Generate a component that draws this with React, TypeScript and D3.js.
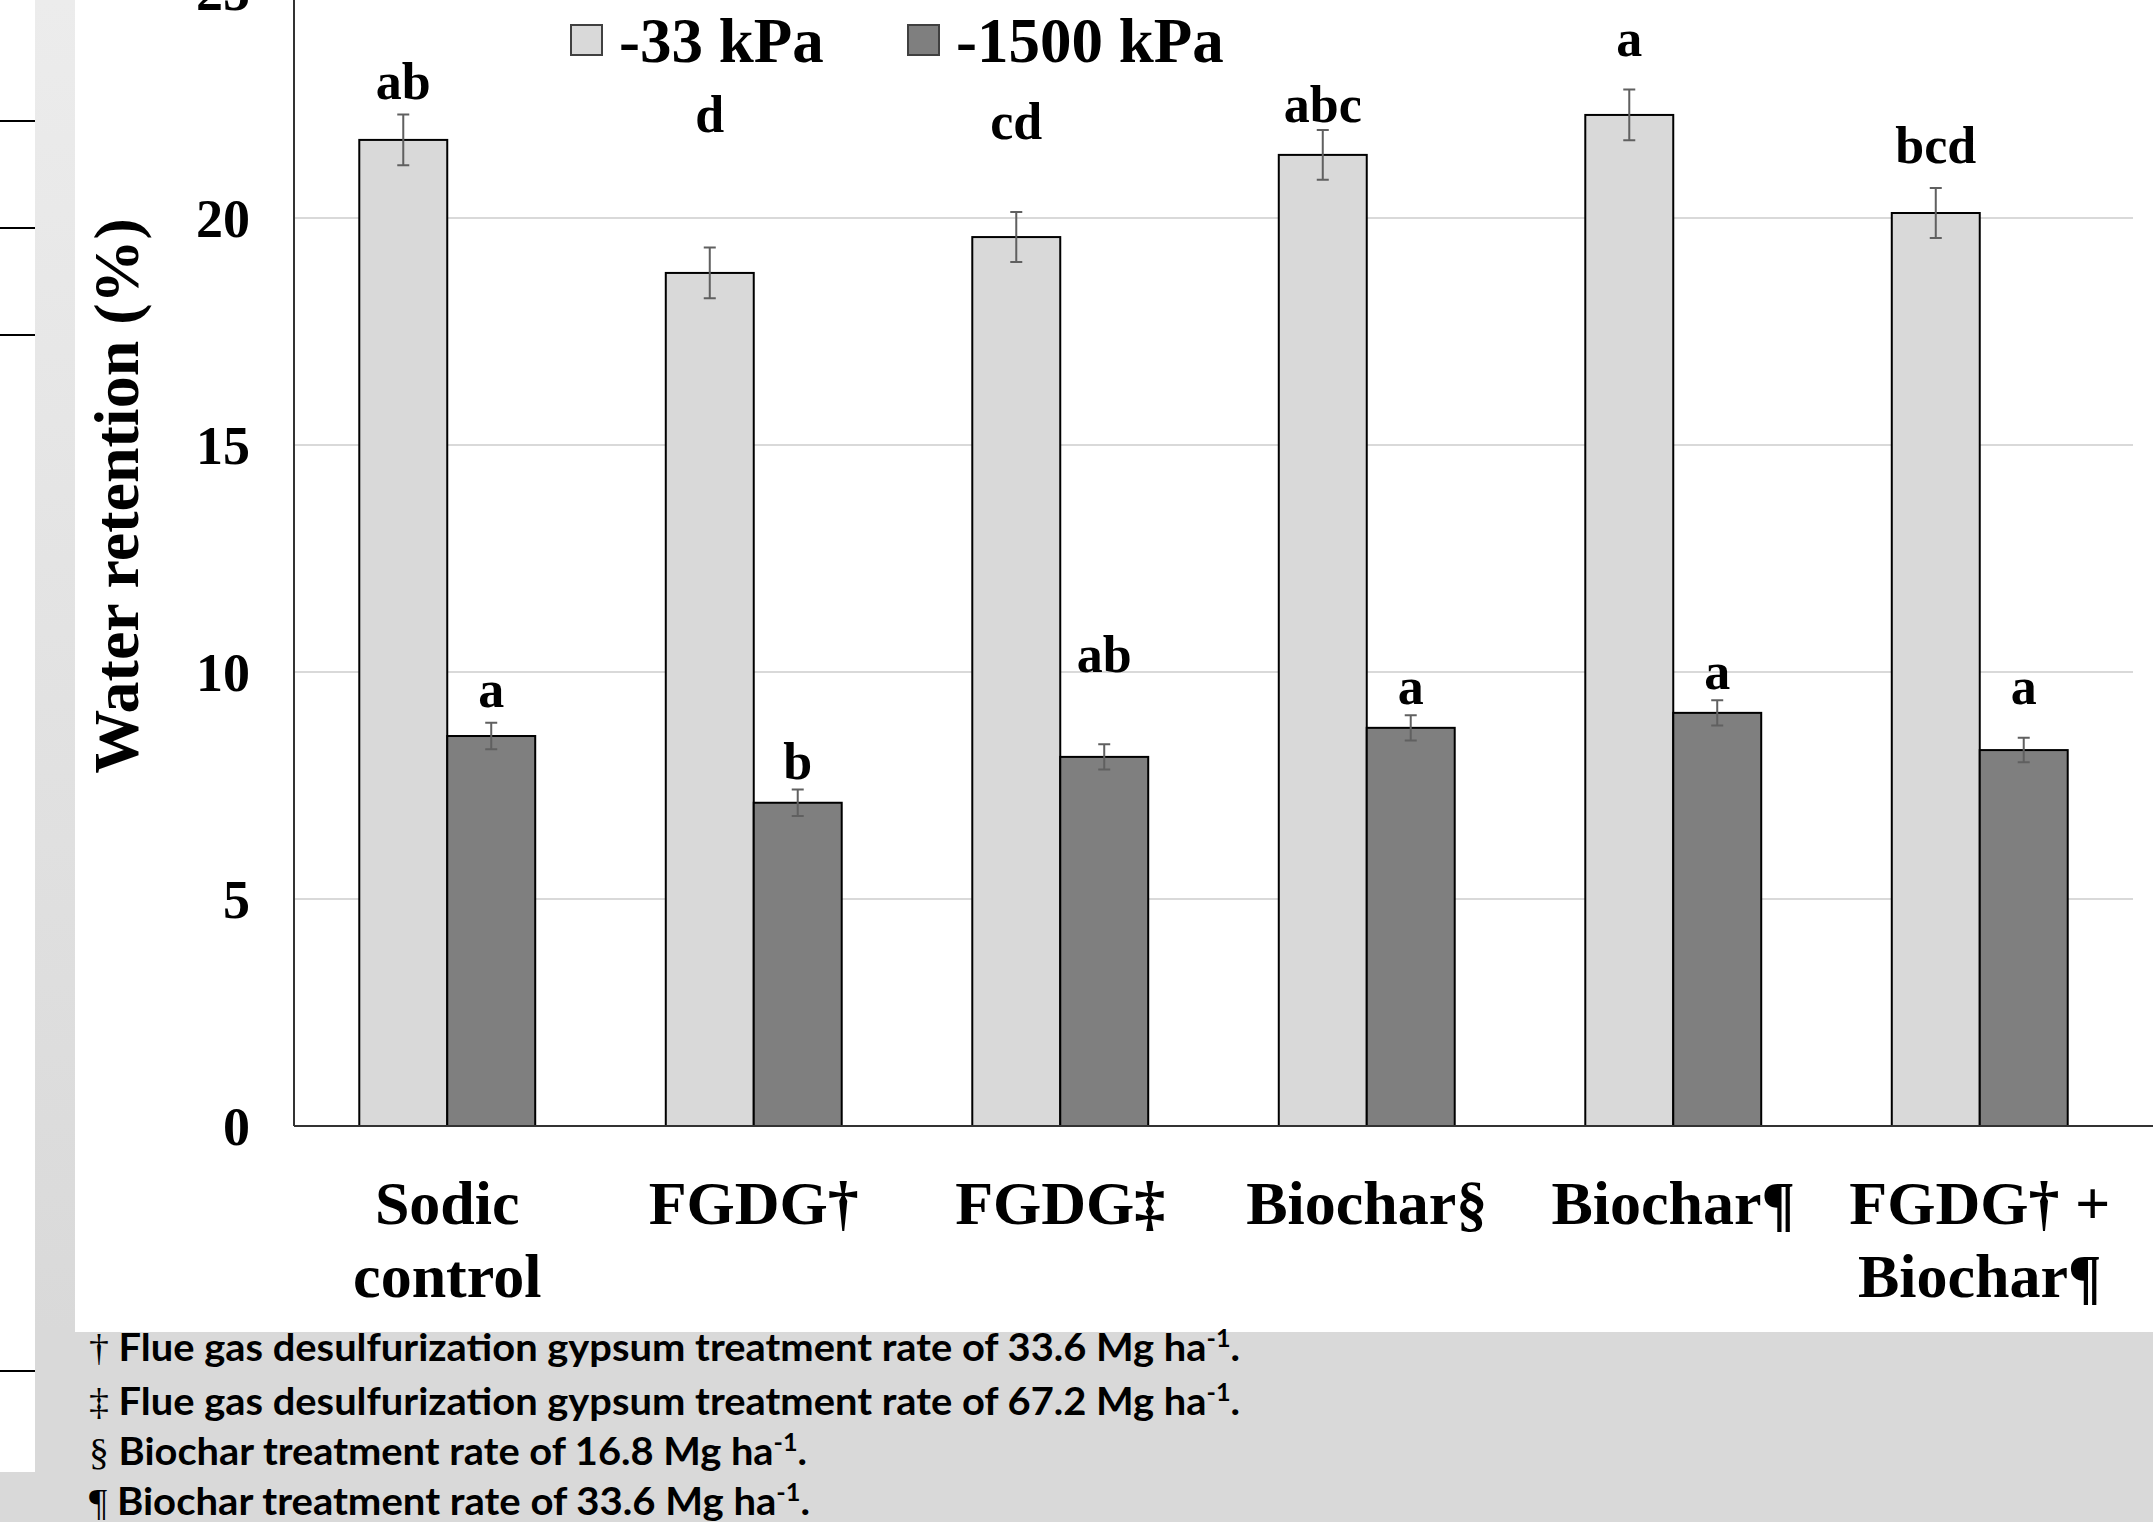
import React from "react";
import * as d3 from "d3";

// treatments along the x axis (each label may wrap on two lines)
const categories = ["Sodic control", "FGDG†", "FGDG‡", "Biochar§", "Biochar¶", "FGDG† + Biochar¶"];
const categoryLines = [["Sodic", "control"], ["FGDG†"], ["FGDG‡"], ["Biochar§"], ["Biochar¶"], ["FGDG† +", "Biochar¶"]];

const series = ["-33 kPa", "-1500 kPa"];

// water retention (%)
const kpa33 = [21.72, 18.79, 19.58, 21.39, 22.27, 20.11];
const kpa1500 = [8.59, 7.12, 8.13, 8.77, 9.10, 8.28];

// standard errors
const err33 = [0.56, 0.56, 0.55, 0.55, 0.56, 0.55];
const err1500 = [0.29, 0.29, 0.28, 0.28, 0.28, 0.27];

// mean separation letters and the level (in %) they sit at
const letters33 = ["ab", "d", "cd", "abc", "a", "bcd"];
const letters1500 = ["a", "b", "ab", "a", "a", "a"];
const letterLevel33 = [22.62, 21.89, 21.74, 22.11, 23.57, 21.21];
const letterLevel1500 = [9.23, 7.64, 10.0, 9.3, 9.63, 9.3];

const yTicks = [0, 5, 10, 15, 20, 25];

const footnotes = [
  { sym: "†", text: " Flue gas desulfurization gypsum treatment rate of 33.6 Mg ha" },
  { sym: "‡", text: " Flue gas desulfurization gypsum treatment rate of 67.2 Mg ha" },
  { sym: "§", text: " Biochar treatment rate of 16.8 Mg ha" },
  { sym: "¶", text: " Biochar treatment rate of 33.6 Mg ha" },
];

const W = 2153;
const H = 1522;
const serif = "'Liberation Serif', 'Times New Roman', serif";
const sans = "Lato, 'Open Sans', sans-serif";
const fills = ["#d9d9d9", "#7f7f7f"];

export default function App() {
  const left = 294;
  const right = 2133;
  const base = 1126;

  const x0 = d3.scaleBand<string>().domain(categories).range([left, right]).paddingInner(0.426).paddingOuter(0.213);
  const x1 = d3.scaleBand<string>().domain(series).range([0, x0.bandwidth()]);
  const y = d3.scaleLinear().domain([0, 25]).range([base, base - 25 * 45.4]);

  const values = [kpa33, kpa1500];
  const errs = [err33, err1500];
  const letters = [letters33, letters1500];
  const levels = [letterLevel33, letterLevel1500];

  const footTop = [1361, 1415, 1465, 1515];
  const footEnd = [1240, 1240, 807, 810];

  return (
    <svg width={W} height={H} style={{ position: "absolute", left: 0, top: 0, display: "block" }}>
      <defs>
        <linearGradient id="strip" x1="0" y1="0" x2="0" y2="1">
          <stop offset="0" stopColor="#ececec" />
          <stop offset="1" stopColor="#d9d9d9" />
        </linearGradient>
      </defs>
      {/* slide background pieces */}
      <rect x={0} y={0} width={W} height={H} fill="#d9d9d9" />
      <rect x={0} y={0} width={35} height={1472} fill="#ffffff" />
      {[121, 228, 335, 1371].map((ly) => (
        <line key={ly} x1={0} x2={35} y1={ly} y2={ly} stroke="#000" strokeWidth={2} />
      ))}
      <rect x={35} y={0} width={40} height={1332} fill="url(#strip)" />
      <rect x={75} y={0} width={W - 75} height={1332} fill="#ffffff" />

      {/* gridlines */}
      {yTicks.filter((t) => t > 0).map((t) => (
        <line key={t} x1={left} x2={right} y1={y(t)} y2={y(t)} stroke="#d9d9d9" strokeWidth={2} />
      ))}

      {/* bars */}
      {categories.map((c, i) => (
        <g key={c} transform={`translate(${x0(c)},0)`}>
          {series.map((s, k) => {
            const v = values[k][i];
            const bx = x1(s)!;
            const bw = x1.bandwidth();
            const cx = bx + bw / 2;
            const e = errs[k][i];
            return (
              <g key={s}>
                <rect x={bx} y={y(v)} width={bw} height={base - y(v)} fill={fills[k]} stroke="#000" strokeWidth={2} />
                <path
                  d={`M${cx},${y(v + e)}V${y(v - e)}M${cx - 6},${y(v + e)}h12M${cx - 6},${y(v - e)}h12`}
                  stroke="#606060"
                  strokeWidth={2}
                  fill="none"
                />
                <text x={cx} y={y(levels[k][i])} textAnchor="middle" fontFamily={serif} fontWeight="bold" fontSize={52}>
                  {letters[k][i]}
                </text>
              </g>
            );
          })}
        </g>
      ))}

      {/* axes */}
      <line x1={left} x2={left} y1={y(25)} y2={base} stroke="#333" strokeWidth={2} />
      <line x1={left} x2={W} y1={base} y2={base} stroke="#333" strokeWidth={2} />

      {yTicks.map((t) => (
        <text key={t} x={250} y={y(t)} dy="0.35em" textAnchor="end" fontFamily={serif} fontWeight="bold" fontSize={54}>
          {t}
        </text>
      ))}

      <text
        transform={`translate(${138},${496}) rotate(-90)`}
        textAnchor="middle"
        fontFamily={serif}
        fontWeight="bold"
        fontSize={64}
      >
        Water retention (%)
      </text>

      {categories.map((c, i) => (
        <text key={c} x={x0(c)! + x0.bandwidth() / 2} textAnchor="middle" fontFamily={serif} fontWeight="bold" fontSize={62}>
          {categoryLines[i].map((ln, j) => (
            <tspan key={j} x={x0(c)! + x0.bandwidth() / 2} y={1224 + j * 73}>
              {ln}
            </tspan>
          ))}
        </text>
      ))}

      {/* legend */}
      {series.map((s, k) => {
        const lx = [571, 908][k];
        return (
          <g key={s}>
            <rect x={lx} y={25} width={31} height={30} fill={fills[k]} stroke="#404040" strokeWidth={2} />
            <text x={lx + 48} y={62} fontFamily={serif} fontWeight="bold" fontSize={63}>
              {s}
            </text>
          </g>
        );
      })}

      {/* footnotes */}
      {footnotes.map((f, i) => (
        <text
          key={i}
          x={89}
          y={footTop[i]}
          fontFamily={sans}
          fontWeight="bold"
          fontSize={38}
          textLength={footEnd[i] - 89}
          lengthAdjust="spacingAndGlyphs"
        >
          <tspan fontFamily={serif} fontWeight="normal">{f.sym}</tspan>
          {f.text}
          <tspan fontSize={24} dy={-14}>-1</tspan>
          <tspan dy={14}>.</tspan>
        </text>
      ))}
    </svg>
  );
}
